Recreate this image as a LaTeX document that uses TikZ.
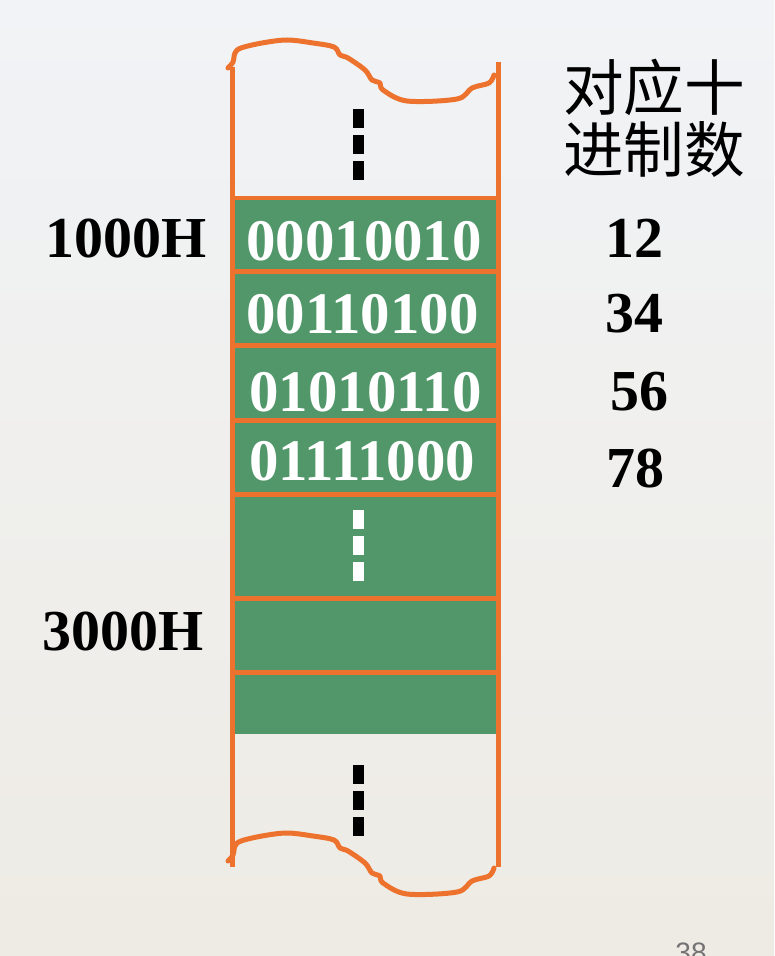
\documentclass[tikz,border=0pt]{standalone}
\usepackage{fontspec}
\setmainfont{Liberation Serif}
\setsansfont{Liberation Sans}
\newfontfamily\cjk{Noto Sans CJK SC}
\usetikzlibrary{positioning}
\definecolor{rim}{RGB}{237,114,45}
\definecolor{cellgreen}{RGB}{81,151,106}
\definecolor{skytop}{RGB}{241,243,246}
\definecolor{skybot}{RGB}{238,235,228}
\tikzset{
  edge line/.style={draw=rim,line width=0.1cm,line cap=round,line join=round},
  bits/.style={text=white,font=\fontsize{33.5}{36}\selectfont\bfseries,anchor=base west,inner sep=0pt},
  addr/.style={font=\fontsize{33}{36}\selectfont\bfseries,anchor=base east,inner sep=0pt},
  dec/.style={font=\fontsize{33}{36}\selectfont\bfseries,anchor=base west,inner sep=0pt},
  hanzi/.style={font=\cjk\fontsize{34.5}{36}\selectfont,anchor=base west,inner sep=0pt},
  % torn edge of the memory strip
  pics/tear/.style={code={
    \draw[edge line] plot[smooth,tension=0.55] coordinates {(228,68) (233,62) (235,53) (241,48)
      (262,43) (287,40) (313,43) (334,47) (340,55) (348,58) (365,70) (372,80) (380,83)
      (383,90) (407,101) (457,99) (472,88) (489,83) (494,75)};
  }},
  % vertical ellipsis
  pics/vdots/.style={code={
    \foreach \y in {0,26,52} \fill[#1] (-5.5,\y) rectangle +(11,19);
  }},
  pics/vdots/.default=black,
}
\begin{document}
\begin{tikzpicture}[x=0.02cm,y=-0.02cm]
  \useasboundingbox (0,0) rectangle (774,956);
  \shade[top color=skytop,bottom color=skybot] (0,0) rectangle (774,956);
  % memory cells
  \fill[cellgreen] (232,198) rectangle (498,734);
  \foreach \y in {198,271,345,420,494.5,598.5,672.5}
    \draw[edge line,line cap=butt] (232,\y) -- (498,\y);
  \draw[edge line,line cap=butt] (232,67) -- (232,867);
  \draw[edge line,line cap=butt] (498,62) -- (498,867);
  \pic at (0,0) {tear};
  \pic at (0,793) {tear};
  \pic at (358.5,109) {vdots};
  \pic at (358.5,510) {vdots=white};
  \pic at (358.5,765) {vdots};
  % contents
  \node[bits] (b1) at (246,260) {00010010};
  \node[bits] (b2) at (246,333) {00110100};
  \node[bits] (b3) at (249,411) {01010110};
  \node[bits] (b4) at (249,480) {01111000};
  \node[addr] (a1) at (207,257) {1000H};
  \node[addr] (a2) at (204,650) {3000H};
  \node[dec] (d1) at (605,257) {12};
  \node[dec] (d2) at (605,332) {34};
  \node[dec] (d3) at (610,410) {56};
  \node[dec] (d4) at (606,487) {78};
  \node[hanzi] (h1) at (563,111) {对应十};
  \node[hanzi] (h2) at (563,173) {进制数};
  \node[font=\sffamily\fontsize{16}{18}\selectfont,text=black!55,anchor=base,inner sep=0pt] (pg) at (691,962) {38};
\end{tikzpicture}
\end{document}
